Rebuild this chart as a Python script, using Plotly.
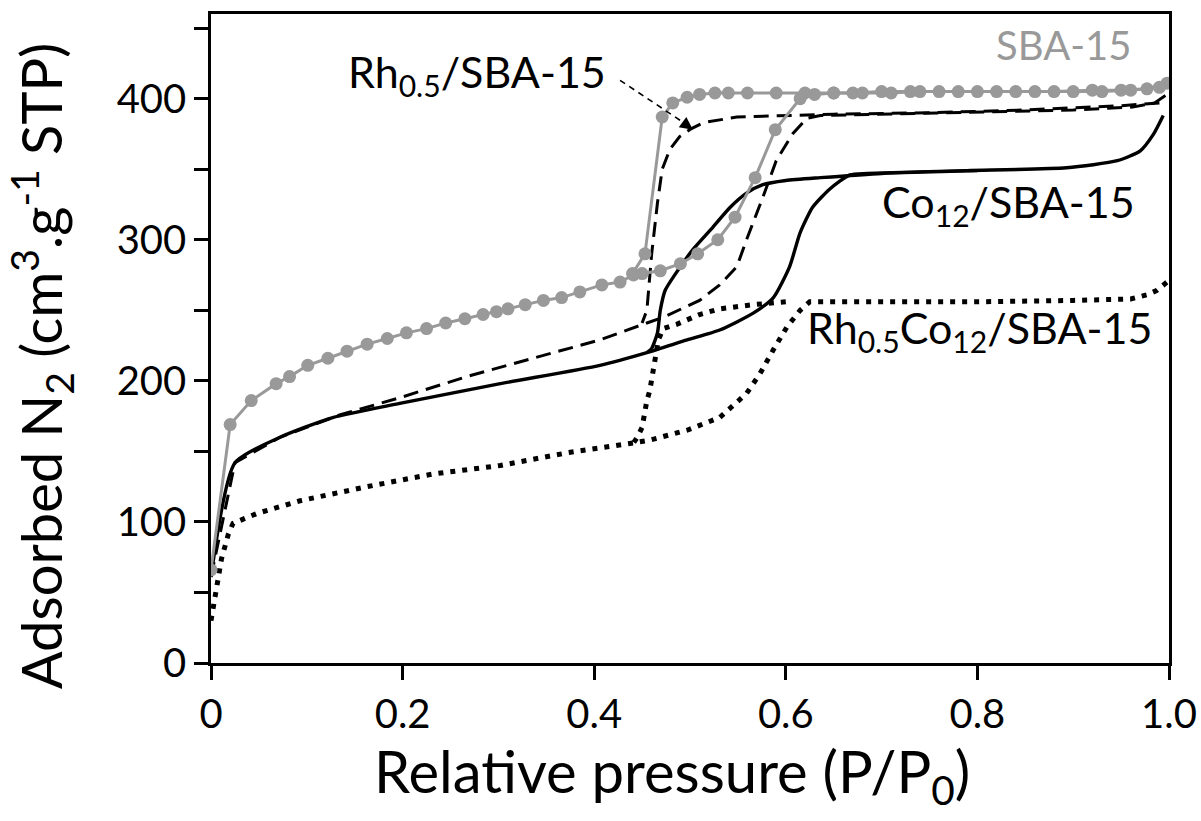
import plotly.graph_objects as go

# ---------------- data ----------------
# SBA-15 (grey, markers)
sba_ads_x = [0.0, 0.020, 0.042, 0.068, 0.082, 0.101, 0.122, 0.142, 0.163, 0.184, 0.204, 0.225, 0.245,
             0.265, 0.284, 0.298, 0.310, 0.328, 0.347, 0.366, 0.385, 0.408, 0.427, 0.441, 0.450, 0.469,
             0.490, 0.508, 0.529, 0.547, 0.568, 0.589, 0.615, 0.630, 0.650, 0.670, 0.700, 0.730, 0.760,
             0.800, 0.840, 0.880, 0.920, 0.950, 0.977, 0.998]
sba_ads_y = [66, 169, 186, 198, 203, 211, 216, 221, 226, 230, 234, 237, 241,
             244, 247, 249, 251, 254, 257, 259, 263, 268, 270, 275, 276, 278,
             283, 290, 300, 316, 344, 378, 400, 403, 404, 404, 405, 405, 405,
             405, 405, 405, 406, 406, 407, 411]
sba_des_x = [0.990, 0.960, 0.930, 0.900, 0.860, 0.820, 0.780, 0.740, 0.710, 0.680, 0.650, 0.620,
             0.590, 0.560, 0.540, 0.526, 0.510, 0.497, 0.482, 0.471, 0.453, 0.440]
sba_des_y = [408, 406, 405, 405, 405, 405, 405, 405, 404, 404, 404, 404,
             404, 404, 404, 404, 403, 401, 397, 387, 290, 276]

# Rh0.5/SBA-15 (dashed)
rh_ads_x = [0.0, 0.025, 0.072, 0.135, 0.197, 0.267, 0.336, 0.406, 0.455, 0.472, 0.510, 0.531,
            0.549, 0.559, 0.576, 0.590, 0.607, 0.622, 0.636, 0.700, 0.789, 0.900, 0.962, 0.985, 0.998]
rh_ads_y = [61, 142, 160, 176, 188, 203, 216, 229, 241, 245, 257, 268,
            281, 300, 330, 356, 375, 386, 388, 389, 390, 392, 394, 397, 403]
rh_des_x = [0.990, 0.950, 0.850, 0.750, 0.650, 0.583, 0.549, 0.514, 0.502, 0.489, 0.479, 0.471,
            0.466, 0.460, 0.455, 0.450]
rh_des_y = [397, 395, 392, 390, 389, 388, 387, 383, 379, 373, 364, 350,
            326, 290, 250, 241]

# Co12/SBA-15 (solid)
co_ads_x = [0.0, 0.025, 0.072, 0.127, 0.197, 0.302, 0.406, 0.455, 0.497, 0.531, 0.566, 0.587,
            0.604, 0.615, 0.628, 0.646, 0.667, 0.685, 0.789, 0.893, 0.946, 0.970, 0.984, 0.994]
co_ads_y = [61, 142, 160, 174, 184, 198, 211, 220, 229, 236, 248, 259,
            281, 305, 323, 336, 346, 347, 349, 351, 356, 363, 375, 388]
co_des_x = [0.800, 0.700, 0.636, 0.600, 0.576, 0.559, 0.542, 0.524, 0.503, 0.485,
            0.474, 0.469, 0.466, 0.460, 0.455]
co_des_y = [349, 347, 344, 342, 339, 333, 323, 309, 293, 276,
            264, 250, 234, 223, 220]

# Rh0.5Co12/SBA-15 (dotted)
rc_ads_x = [0.0, 0.004, 0.007, 0.011, 0.018, 0.023, 0.048, 0.093, 0.163, 0.232, 0.302, 0.372,
            0.441, 0.458, 0.497, 0.531, 0.559, 0.573, 0.587, 0.601, 0.615, 0.625, 0.700, 0.800,
            0.900, 0.960, 0.977, 0.987, 0.998]
rc_ads_y = [30, 48, 57, 74, 91, 99, 106, 115, 125, 134, 140, 149,
            156, 158, 165, 174, 191, 205, 222, 238, 250, 256, 256, 256,
            257, 258, 261, 264, 270]
rc_des_x = [0.600, 0.566, 0.531, 0.510, 0.486, 0.472, 0.467, 0.463, 0.460,
            0.458, 0.455, 0.453, 0.450, 0.445, 0.441]
rc_des_y = [256, 254, 251, 247, 240, 237, 229, 212, 203,
            193, 186, 177, 167, 160, 156]

x_ticks = [0, 0.2, 0.4, 0.6, 0.8, 1.0]
x_tick_labels = ["0", "0.2", "0.4", "0.6", "0.8", "1.0"]
y_ticks = [0, 50, 100, 150, 200, 250, 300, 350, 400, 450]
y_tick_labels = ["0", "", "100", "", "200", "", "300", "", "400", ""]

# ---------------- styling ----------------
GREY = "#999999"
FONT = "Lato"

fig = go.Figure()

def add(x, y, **kw):
    fig.add_trace(go.Scatter(x=x, y=y, showlegend=False, hoverinfo="skip", **kw))

DOT = dict(color="black", width=5, dash="5px,7px")
add(rc_ads_x, rc_ads_y, mode="lines", line=DOT)
add(rc_des_x, rc_des_y, mode="lines", line=DOT)
add(co_ads_x, co_ads_y, mode="lines", line=dict(color="black", width=3.4, shape="spline", smoothing=0.6))
add(co_des_x, co_des_y, mode="lines", line=dict(color="black", width=3.4, shape="spline", smoothing=0.6))
add(rh_ads_x, rh_ads_y, mode="lines", line=dict(color="black", width=3, dash="15px,8px"))
add(rh_des_x, rh_des_y, mode="lines", line=dict(color="black", width=3, dash="15px,8px"))
add(sba_ads_x, sba_ads_y, mode="lines+markers", line=dict(color=GREY, width=3),
    marker=dict(color=GREY, size=13))
add(sba_des_x, sba_des_y, mode="lines+markers", line=dict(color=GREY, width=3),
    marker=dict(color=GREY, size=13))

# leader line for Rh0.5/SBA-15 label
fig.add_shape(type="line", xref="x", yref="y", x0=0.427, y0=413, x1=0.500, y1=380,
              line=dict(color="black", width=1.6, dash="6px,5px"))
fig.add_annotation(x=0.503, y=378, ax=0.493, ay=383, xref="x", yref="y", axref="x", ayref="y",
                   text="", showarrow=True, arrowhead=2, arrowsize=1.6, arrowwidth=1.6,
                   arrowcolor="black")

lab_font = dict(family=FONT, size=43, color="black")
fig.add_annotation(x=0.414, y=417, xref="x", yref="y", text="Rh<sub>0.5</sub>/SBA-15",
                   showarrow=False, xanchor="right", yanchor="middle", font=lab_font)
fig.add_annotation(x=0.89, y=438, xref="x", yref="y", text="SBA-15",
                   showarrow=False, xanchor="center", yanchor="middle",
                   font=dict(family=FONT, size=40, color=GREY))
fig.add_annotation(x=0.698, y=325, xref="x", yref="y", text="Co<sub>12</sub>/SBA-15",
                   showarrow=False, xanchor="left", yanchor="middle", font=lab_font)
fig.add_annotation(x=0.62, y=236, xref="x", yref="y", text="Rh<sub>0.5</sub>Co<sub>12</sub>/SBA-15",
                   showarrow=False, xanchor="left", yanchor="middle", font=lab_font)

# axis titles
fig.add_annotation(x=0.481, y=-0.172, xref="paper", yref="paper",
                   text="Relative pressure (P/P<sub>0</sub>)", showarrow=False,
                   xanchor="center", yanchor="middle",
                   font=dict(family=FONT, size=58, color="black"))
fig.add_annotation(x=-0.178, y=0.458, xref="paper", yref="paper", textangle=-90,
                   text="Adsorbed N<sub>2</sub> (cm<sup>3</sup>.g<sup>-1</sup> STP)", showarrow=False,
                   xanchor="center", yanchor="middle",
                   font=dict(family=FONT, size=56, color="black"))

axis_common = dict(showline=True, linecolor="black", linewidth=2.5, mirror=True,
                   ticks="outside", ticklen=14, tickwidth=2.5, tickcolor="black",
                   showgrid=False, zeroline=False, automargin=False,
                   tickfont=dict(family=FONT, size=40, color="black"))

fig.update_xaxes(range=[0, 1.0], tickvals=x_ticks, ticktext=x_tick_labels, **axis_common)
fig.update_yaxes(range=[0, 460], tickvals=y_ticks, ticktext=y_tick_labels, **axis_common)

fig.update_layout(width=1201, height=821, margin=dict(l=211, r=32, t=14, b=158),
                  plot_bgcolor="white", paper_bgcolor="white")

fig.write_html("out.html", config={"displayModeBar": False},
               post_script="document.body.style.margin='0';document.body.style.overflow='hidden';")
